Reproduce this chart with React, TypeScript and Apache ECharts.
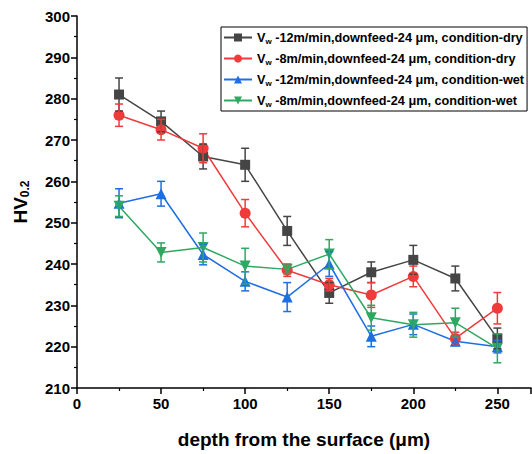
import React, { useEffect, useRef } from "react";
import * as echarts from "echarts";

const depths = [25, 50, 75, 100, 125, 150, 175, 200, 225, 250];

const seriesNames = [
  "-12m/min,downfeed-24 μm, condition-dry",
  "-8m/min,downfeed-24 μm, condition-dry",
  "-12m/min,downfeed-24 μm, condition-wet",
  "-8m/min,downfeed-24 μm, condition-wet",
];

const dry12 = [281, 274.5, 266, 264, 248, 233, 238, 241, 236.5, 222];
const dry12Err = [4, 2.5, 3, 4, 3.5, 2.5, 2.5, 3.5, 3, 2.5];

const dry8 = [276, 272.5, 268, 252.3, 238.5, 235, 232.5, 237, 222, 229.3];
const dry8Err = [2.7, 2.5, 3.5, 3.3, 1.5, 1.5, 3, 2.5, 1.5, 3.8];

const wet12 = [254.7, 257, 242.3, 235.8, 232, 240, 222.5, 225.4, 221.3, 220];
const wet12Err = [3.5, 3, 2.5, 2.3, 3.5, 3, 2.5, 2.5, 1, 1.5];

const wet8 = [254, 242.8, 244, 239.5, 238.7, 242.4, 227, 225.3, 225.8, 219.6];
const wet8Err = [2.5, 2.3, 3.5, 4.3, 1, 3.5, 3, 3, 3.5, 3.5];

const colors = ["#454545", "#ef3b3b", "#1e6fe3", "#2fa862"];
const symbols = ["rect", "circle", "triangle", "path://M0,0 L10,0 L5,9 Z"];
const symbolSizes = [10, 11, 11, 11];

const values = [dry12, dry8, wet12, wet8];
const errors = [dry12Err, dry8Err, wet12Err, wet8Err];

const FONT = "Arial, Liberation Sans, sans-serif";

export default function App() {
  const ref = useRef<HTMLDivElement>(null);

  useEffect(() => {
    if (!ref.current) return;
    const chart = echarts.init(ref.current, undefined, { renderer: "svg" });

    const lineSeries = values.map((vals, i) => ({
      name: seriesNames[i],
      type: "line",
      data: depths.map((d, j) => [d, vals[j]]),
      symbol: symbols[i],
      symbolSize: symbolSizes[i],
      itemStyle: { color: colors[i] },
      lineStyle: { color: colors[i], width: 1.5 },
      z: 3,
    }));

    const errSeries = values.map((vals, i) => ({
      name: "err" + i,
      type: "custom",
      data: depths.map((d, j) => [d, vals[j] - errors[i][j], vals[j] + errors[i][j]]),
      z: 4,
      renderItem: (params: any, api: any) => {
        const x = api.value(0);
        const lo = api.coord([x, api.value(1)]);
        const hi = api.coord([x, api.value(2)]);
        const hw = 4;
        const style = { stroke: colors[i], lineWidth: 1.5, fill: "none" };
        return {
          type: "group",
          children: [
            { type: "line", shape: { x1: lo[0], y1: lo[1], x2: hi[0], y2: hi[1] }, style },
            { type: "line", shape: { x1: lo[0] - hw, y1: lo[1], x2: lo[0] + hw, y2: lo[1] }, style },
            { type: "line", shape: { x1: hi[0] - hw, y1: hi[1], x2: hi[0] + hw, y2: hi[1] }, style },
          ],
        };
      },
    }));

    chart.setOption({
      animation: false,
      backgroundColor: "#ffffff",
      grid: { left: 77, right: 1, top: 16, bottom: 65, containLabel: false },
      legend: {
        data: seriesNames,
        orient: "vertical",
        left: 221,
        top: 27,
        padding: [4, 3, 3, 2],
        itemGap: 7,
        itemWidth: 28,
        itemHeight: 10,
        borderColor: "#000",
        borderWidth: 1,
        borderRadius: 0,
        backgroundColor: "#fff",
        formatter: (name: string) => `V{sub|w} ${name}`,
        textStyle: {
          fontFamily: FONT,
          fontWeight: "bold",
          fontSize: 12.7,
          color: "#000",
          rich: {
            sub: {
              fontSize: 8,
              fontWeight: "bold",
              fontFamily: FONT,
              color: "#000",
              verticalAlign: "bottom",
              padding: [7, 0, 0, 0],
            },
          },
        },
      },
      xAxis: {
        type: "value",
        min: 0,
        max: 270,
        interval: 50,
        name: "depth from the surface (μm)",
        nameLocation: "middle",
        nameGap: 42,
        nameTextStyle: {
          fontFamily: FONT,
          fontWeight: "bold",
          fontSize: 19,
          color: "#000",
        },
        axisLine: { show: true, lineStyle: { color: "#000", width: 1.5 } },
        axisTick: { show: true, inside: false, length: 6, lineStyle: { color: "#000", width: 1.5 } },
        minorTick: { show: true, splitNumber: 2, length: 3, lineStyle: { color: "#000", width: 1.2 } },
        axisLabel: {
          fontFamily: FONT,
          fontWeight: "bold",
          fontSize: 15,
          color: "#000",
          margin: 8,
          showMaxLabel: false,
        },
        splitLine: { show: false },
      },
      yAxis: {
        type: "value",
        min: 210,
        max: 300,
        interval: 10,
        name: "HV{sub|0.2}",
        nameLocation: "middle",
        nameRotate: 90,
        nameGap: 46,
        nameTextStyle: {
          fontFamily: FONT,
          fontWeight: "bold",
          fontSize: 19,
          color: "#000",
          rich: {
            sub: {
              fontFamily: FONT,
              fontWeight: "bold",
              fontSize: 12,
              color: "#000",
              padding: [9, 0, 0, 0],
            },
          },
        },
        axisLine: { show: true, lineStyle: { color: "#000", width: 1.5 } },
        axisTick: { show: true, inside: false, length: 6, lineStyle: { color: "#000", width: 1.5 } },
        minorTick: { show: true, splitNumber: 2, length: 3, lineStyle: { color: "#000", width: 1.2 } },
        axisLabel: {
          fontFamily: FONT,
          fontWeight: "bold",
          fontSize: 15,
          color: "#000",
          margin: 7,
        },
        splitLine: { show: false },
      },
      series: [...lineSeries, ...errSeries],
    });

    return () => chart.dispose();
  }, []);

  return <div ref={ref} style={{ width: 532, height: 454, position: "absolute", left: 0, top: 0 }} />;
}
